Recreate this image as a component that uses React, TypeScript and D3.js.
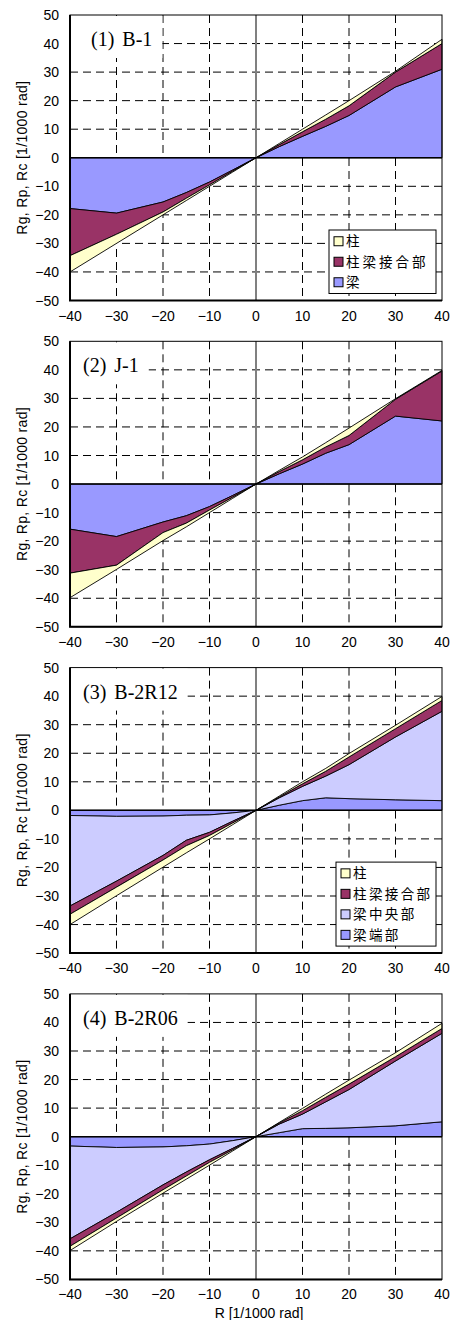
import React, { useEffect, useRef } from 'react';
import * as d3 from 'd3';

// story drift R [1/1000 rad] at the plotted peaks
const R = [-40, -30, -20, -15, -10, -5, 0, 5, 10, 15, 20, 30, 40];

// (1) B-1 : components of R
const b1Beam = [-17.8, -19.4, -15.5, -12.2, -8.5, -4.3, 0, 3.9, 7.5, 11.0, 14.8, 24.8, 31.0];
const b1Joint = [-16.5, -7.4, -3.5, -2.0, -1.0, -0.4, 0, 0.7, 1.6, 2.5, 3.4, 5.2, 9.0];
const b1Col = [-5.7, -3.2, -1.0, -0.8, -0.5, -0.3, 0, 0.4, 0.9, 1.5, 1.8, 0.3, 1.5];

// (2) J-1
const j1Beam = [-15.8, -18.4, -13.3, -11.1, -7.9, -4.0, 0, 3.6, 7.0, 10.8, 13.8, 23.8, 22.1];
const j1Joint = [-15.4, -10.0, -3.7, -2.6, -1.2, -0.6, 0, 0.8, 1.5, 2.2, 3.2, 5.9, 17.5];
const j1Col = [-8.6, -1.5, -2.8, -1.3, -0.9, -0.4, 0, 0.4, 1.0, 1.5, 2.6, 0.2, 0.2];

// (3) B-2R12
const r12End = [-1.8, -2.1, -2.0, -1.7, -1.6, -0.9, 0, 1.8, 3.4, 4.4, 4.1, 3.7, 3.4];
const r12Mid = [-31.7, -22.7, -13.8, -8.8, -6.1, -2.9, 0, 2.6, 5.0, 7.6, 11.9, 22.0, 31.3];
const r12Joint = [-2.9, -2.1, -1.6, -1.9, -1.1, -0.6, 0, 0.3, 0.9, 1.7, 2.7, 2.9, 3.8];
const r12Col = [-3.6, -3.0, -2.5, -2.5, -1.2, -0.6, 0, 0.3, 0.7, 1.0, 1.2, 1.2, 1.4];

// (4) B-2R06
const r06End = [-3.3, -3.8, -3.6, -3.2, -2.6, -1.4, 0, 1.4, 2.8, 2.9, 3.1, 3.8, 5.2];
const r06Mid = [-32.5, -22.7, -13.3, -9.2, -5.5, -2.7, 0, 3.0, 5.1, 9.3, 13.4, 22.7, 31.0];
const r06Joint = [-2.6, -2.0, -1.7, -1.4, -0.9, -0.5, 0, 0.4, 1.2, 1.6, 1.9, 1.5, 1.7];
const r06Col = [-1.5, -1.2, -1.2, -1.1, -1.0, -0.4, 0, 0.2, 0.8, 1.1, 1.4, 1.4, 1.8];

const xTicks = [-40, -30, -20, -10, 0, 10, 20, 30, 40];
const yTicks = [-50, -40, -30, -20, -10, 0, 10, 20, 30, 40, 50];

const COL = '#FFFFCC';
const JOINT = '#993366';
const BEAM = '#9999FF';
const MID = '#CCCCFF';

// bottom layer first
const panels = [
  {
    num: '(1)', name: 'B-1', legend: true,
    series: [
      { key: '梁', values: b1Beam, color: BEAM },
      { key: '柱梁接合部', values: b1Joint, color: JOINT },
      { key: '柱', values: b1Col, color: COL },
    ],
  },
  {
    num: '(2)', name: 'J-1', legend: false,
    series: [
      { key: '梁', values: j1Beam, color: BEAM },
      { key: '柱梁接合部', values: j1Joint, color: JOINT },
      { key: '柱', values: j1Col, color: COL },
    ],
  },
  {
    num: '(3)', name: 'B-2R12', legend: true,
    series: [
      { key: '梁端部', values: r12End, color: BEAM },
      { key: '梁中央部', values: r12Mid, color: MID },
      { key: '柱梁接合部', values: r12Joint, color: JOINT },
      { key: '柱', values: r12Col, color: COL },
    ],
  },
  {
    num: '(4)', name: 'B-2R06', legend: false,
    series: [
      { key: '梁端部', values: r06End, color: BEAM },
      { key: '梁中央部', values: r06Mid, color: MID },
      { key: '柱梁接合部', values: r06Joint, color: JOINT },
      { key: '柱', values: r06Col, color: COL },
    ],
  },
];

const W = 454;
const H = 1320;
const left = 70;
const right = 442;
const top0 = 15;
const pitch = 326.3;
const plotH = 285.5;

const sans = '"Liberation Sans", Arial, sans-serif';
const jp = '"Noto Sans CJK JP", sans-serif';
const serif = '"Liberation Serif", "DejaVu Serif", serif';

const App = () => {
  const svgRef = useRef(null);

  useEffect(() => {
    const svg = d3.select(svgRef.current);
    svg.selectAll('*').remove();

    const x = d3.scaleLinear().domain([-40, 40]).range([left, right]);

    panels.forEach((p, i) => {
      const top = top0 + i * pitch;
      const bottom = top + plotH;
      const y = d3.scaleLinear().domain([-50, 50]).range([bottom, top]);
      const g = svg.append('g');

      g.append('rect').attr('x', left).attr('y', top).attr('width', right - left).attr('height', plotH)
        .attr('fill', '#fff');

      // dashed grid
      g.selectAll('.hg').data(yTicks.filter(v => v !== 0 && Math.abs(v) !== 50)).enter().append('line')
        .attr('x1', left).attr('x2', right).attr('y1', d => y(d)).attr('y2', d => y(d))
        .attr('stroke', '#000').attr('stroke-width', 1).attr('stroke-dasharray', '8,5');
      g.selectAll('.vg').data(xTicks.filter(v => v !== 0 && Math.abs(v) !== 40)).enter().append('line')
        .attr('y1', top).attr('y2', bottom).attr('x1', d => x(d)).attr('x2', d => x(d))
        .attr('stroke', '#000').attr('stroke-width', 1).attr('stroke-dasharray', '8,5');

      // x = 0 line
      g.append('line').attr('x1', x(0)).attr('x2', x(0)).attr('y1', top).attr('y2', bottom)
        .attr('stroke', '#808080').attr('stroke-width', 2);

      // stacked areas
      const keys = p.series.map(s => s.key);
      const rows = R.map((r, j) => {
        const o = { R: r };
        p.series.forEach(s => { o[s.key] = s.values[j]; });
        return o;
      });
      const stacked = d3.stack().keys(keys)(rows);
      const area = d3.area()
        .x(d => x(d.data.R))
        .y0(d => y(d[0]))
        .y1(d => y(d[1]));
      g.selectAll('.ar').data(stacked).enter().append('path')
        .attr('d', area)
        .attr('fill', (d, k) => p.series[k].color)
        .attr('stroke', '#000').attr('stroke-width', 0.9).attr('stroke-linejoin', 'round');

      // y = 0 line
      g.append('line').attr('x1', left).attr('x2', right).attr('y1', y(0)).attr('y2', y(0))
        .attr('stroke', '#000').attr('stroke-width', 1.5);

      // frame
      g.append('rect').attr('x', left).attr('y', top).attr('width', right - left).attr('height', plotH)
        .attr('fill', 'none').attr('stroke', '#000').attr('stroke-width', 1);
      g.append('line').attr('x1', left).attr('x2', left).attr('y1', top).attr('y2', bottom)
        .attr('stroke', '#000').attr('stroke-width', 2);
      g.append('line').attr('x1', left - 1).attr('x2', right).attr('y1', bottom).attr('y2', bottom)
        .attr('stroke', '#000').attr('stroke-width', 2);

      // title box
      const tx = i === 0 ? 91 : 83;
      const tb = g.append('rect').attr('x', left + 1).attr('y', top + 1).attr('height', 42).attr('fill', '#fff');
      const title = g.append('text').attr('x', tx).attr('y', top + 31)
        .attr('font-family', serif).attr('font-size', 20).attr('fill', '#000');
      title.append('tspan').text(p.num);
      title.append('tspan').attr('dx', 8).text(p.name);
      const bb = title.node().getBBox();
      tb.attr('width', bb.x + bb.width + 10 - left - 1);

      // tick labels
      g.selectAll('.yt').data(yTicks).enter().append('text')
        .attr('x', 59).attr('y', d => y(d)).attr('dy', '0.36em')
        .attr('text-anchor', 'end').attr('font-family', sans).attr('font-size', 14)
        .text(d => d3.format('')(d));
      g.selectAll('.xt').data(xTicks).enter().append('text')
        .attr('x', d => x(d)).attr('y', bottom + 20)
        .attr('text-anchor', 'middle').attr('font-family', sans).attr('font-size', 14)
        .text(d => d3.format('')(d));

      // y axis title
      g.append('text')
        .attr('transform', `translate(27,${y(0)}) rotate(-90)`)
        .attr('text-anchor', 'middle').attr('font-family', sans).attr('font-size', 14)
        .attr('letter-spacing', 0.3)
        .text('Rg, Rp, Rc [1/1000 rad]');

      // legend
      if (p.legend) {
        const items = p.series.slice().reverse();
        const rowH = 20.5;
        const lw = i === 0 ? 107 : 100;
        const lh = items.length * rowH + 2;
        const lx = right - 6 - lw;
        const ly = bottom - 7 - lh;
        const lg = g.append('g');
        lg.append('rect').attr('x', lx).attr('y', ly).attr('width', lw).attr('height', lh)
          .attr('fill', '#fff').attr('stroke', '#000').attr('stroke-width', 1);
        items.forEach((s, k) => {
          const cy = ly + 1 + rowH * (k + 0.5);
          lg.append('rect').attr('x', lx + 5).attr('y', cy - 4.5).attr('width', 9).attr('height', 9)
            .attr('fill', s.color).attr('stroke', '#000').attr('stroke-width', 1);
          lg.append('text').attr('x', lx + 17).attr('y', cy).attr('dy', '0.36em')
            .attr('font-family', jp).attr('font-size', 13.5)
            .attr('letter-spacing', i === 0 ? 3 : 2.4).text(s.key);
        });
      }
    });

    svg.append('text').attr('x', 259).attr('y', 1318).attr('text-anchor', 'middle')
      .attr('font-family', sans).attr('font-size', 14).text('R [1/1000 rad]');
  }, []);

  return (
    <svg ref={svgRef} width={W} height={H}
      style={{ position: 'absolute', left: 0, top: 0, background: '#fff' }}></svg>
  );
};

export default App;
